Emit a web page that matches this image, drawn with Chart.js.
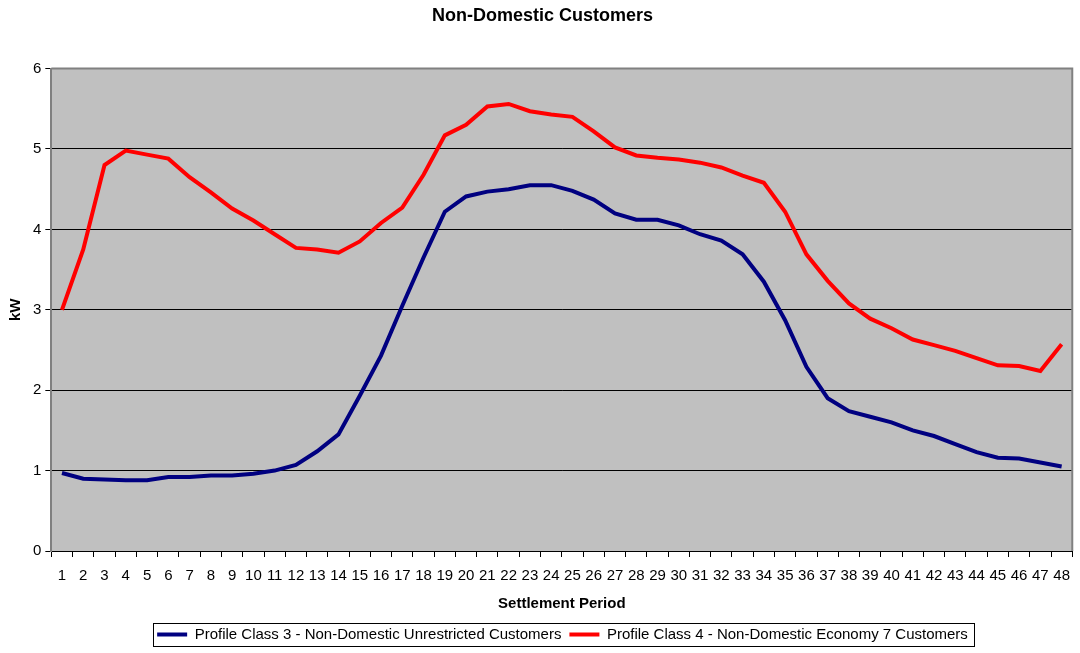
<!DOCTYPE html>
<html>
<head>
<meta charset="utf-8">
<script src="https://cdn.jsdelivr.net/npm/chart.js@4"></script>
<style>
  html, body { margin: 0; padding: 0; background: #fff; }
  #wrap { width: 1080px; height: 653px; position: relative; }
</style>
</head>
<body>
<div id="wrap"><canvas id="cv" width="1080" height="653"></canvas></div>
<script>
// settlement periods 1..48
const periods = [];
for (let i = 1; i <= 48; i++) periods.push(String(i));

const class3Label = 'Profile Class 3 - Non-Domestic Unrestricted Customers';
const class3 = [0.97, 0.90, 0.89, 0.88, 0.88, 0.92, 0.92, 0.94, 0.94, 0.96,
                1.00, 1.07, 1.24, 1.45, 1.93, 2.43, 3.05, 3.65, 4.22, 4.41,
                4.47, 4.50, 4.55, 4.55, 4.48, 4.37, 4.20, 4.12, 4.12, 4.05,
                3.94, 3.86, 3.69, 3.35, 2.87, 2.29, 1.90, 1.74, 1.67, 1.60,
                1.50, 1.43, 1.33, 1.23, 1.16, 1.15, 1.10, 1.05];

const class4Label = 'Profile Class 4 - Non-Domestic Economy 7 Customers';
const class4 = [3.00, 3.75, 4.80, 4.98, 4.93, 4.88, 4.65, 4.46, 4.26, 4.11,
                3.94, 3.77, 3.75, 3.71, 3.85, 4.08, 4.27, 4.68, 5.17, 5.30,
                5.53, 5.56, 5.47, 5.43, 5.40, 5.22, 5.02, 4.92, 4.89, 4.87,
                4.83, 4.77, 4.67, 4.58, 4.22, 3.69, 3.36, 3.08, 2.89, 2.77,
                2.63, 2.56, 2.49, 2.40, 2.31, 2.30, 2.24, 2.57];

const FONT = "'Liberation Sans', Arial, Helvetica, sans-serif";
const LEGEND_SHIFT = 20; // legend sits a bit right of centre in the original

// grey plot background + border, and a frame round the legend
const frames = {
  id: 'frames',
  beforeDraw(chart) {
    const a = chart.chartArea, c = chart.ctx;
    c.save();
    c.fillStyle = '#c0c0c0';
    c.fillRect(a.left, a.top, a.right - a.left, a.bottom - a.top);
    c.restore();
  },
  afterDatasetsDraw(chart) {
    const a = chart.chartArea, c = chart.ctx;
    c.save();
    c.strokeStyle = '#808080';
    c.lineWidth = 2;
    c.beginPath();
    c.moveTo(a.left, a.top); c.lineTo(a.right, a.top); c.lineTo(a.right, a.bottom);
    c.stroke();
    c.restore();
  },
  afterDraw(chart) {
    const l = chart.legend, c = chart.ctx;
    if (!l || !l.legendHitBoxes.length) return;
    const boxes = l.legendHitBoxes;
    const x0 = boxes[0].left - 4 + LEGEND_SHIFT;
    const last = boxes[boxes.length - 1];
    const x1 = last.left + last.width + 6 + LEGEND_SHIFT;
    const y0 = boxes[0].top - 4, y1 = boxes[0].top + boxes[0].height + 4;
    c.save();
    c.strokeStyle = '#000';
    c.lineWidth = 1;
    c.strokeRect(Math.round(x0) + 0.5, Math.round(y0) + 0.5, Math.round(x1 - x0), Math.round(y1 - y0));
    c.restore();
  }
};

const chart = new Chart(document.getElementById('cv').getContext('2d'), {
  type: 'line',
  data: {
    labels: periods,
    datasets: [
      { label: class3Label, data: class3, borderColor: '#000080', backgroundColor: '#000080',
        borderWidth: 4, pointRadius: 0, tension: 0 },
      { label: class4Label, data: class4, borderColor: '#ff0000', backgroundColor: '#ff0000',
        borderWidth: 4, pointRadius: 0, tension: 0 }
    ]
  },
  options: {
    responsive: false,
    animation: false,
    layout: { padding: { left: 7, right: 2, top: 4, bottom: 1 } },
    plugins: {
      title: {
        display: true, text: 'Non-Domestic Customers', color: '#000',
        font: { family: FONT, size: 18, weight: 'bold' },
        padding: { top: 1, bottom: 42 }
      },
      legend: {
        position: 'bottom',
        labels: {
          color: '#000', font: { family: FONT, size: 15 },
          usePointStyle: true, pointStyle: 'line', pointStyleWidth: 30, boxHeight: 5, padding: 8
        }
      },
      tooltip: { enabled: false }
    },
    scales: {
      x: {
        offset: true,
        grid: { display: true, offset: true, drawOnChartArea: false, color: '#000', tickLength: 6 },
        border: { color: '#000', width: 1 },
        ticks: { color: '#000', font: { family: FONT, size: 15 }, autoSkip: false, maxRotation: 0, padding: 10 },
        title: { display: true, text: 'Settlement Period', color: '#000',
                 font: { family: FONT, size: 15, weight: 'bold' }, padding: { top: 0, bottom: 6 } }
      },
      y: {
        min: 0, max: 6,
        grid: { color: '#000', lineWidth: 1, tickLength: 6 },
        border: { color: '#808080', width: 2 },
        ticks: { stepSize: 1, color: '#000', font: { family: FONT, size: 15 }, padding: 4 },
        title: { display: true, text: 'kW', color: '#000',
                 font: { family: FONT, size: 15, weight: 'bold' }, padding: { top: 0, bottom: 4 } }
      }
    }
  },
  plugins: [frames]
});

// nudge the legend to the right, as in the original
const legendDraw = chart.legend.draw;
chart.legend.draw = function(area) {
  const c = chart.ctx;
  c.save();
  c.translate(LEGEND_SHIFT, 0);
  legendDraw.call(this, area);
  c.restore();
};
chart.draw();
</script>
</body>
</html>
